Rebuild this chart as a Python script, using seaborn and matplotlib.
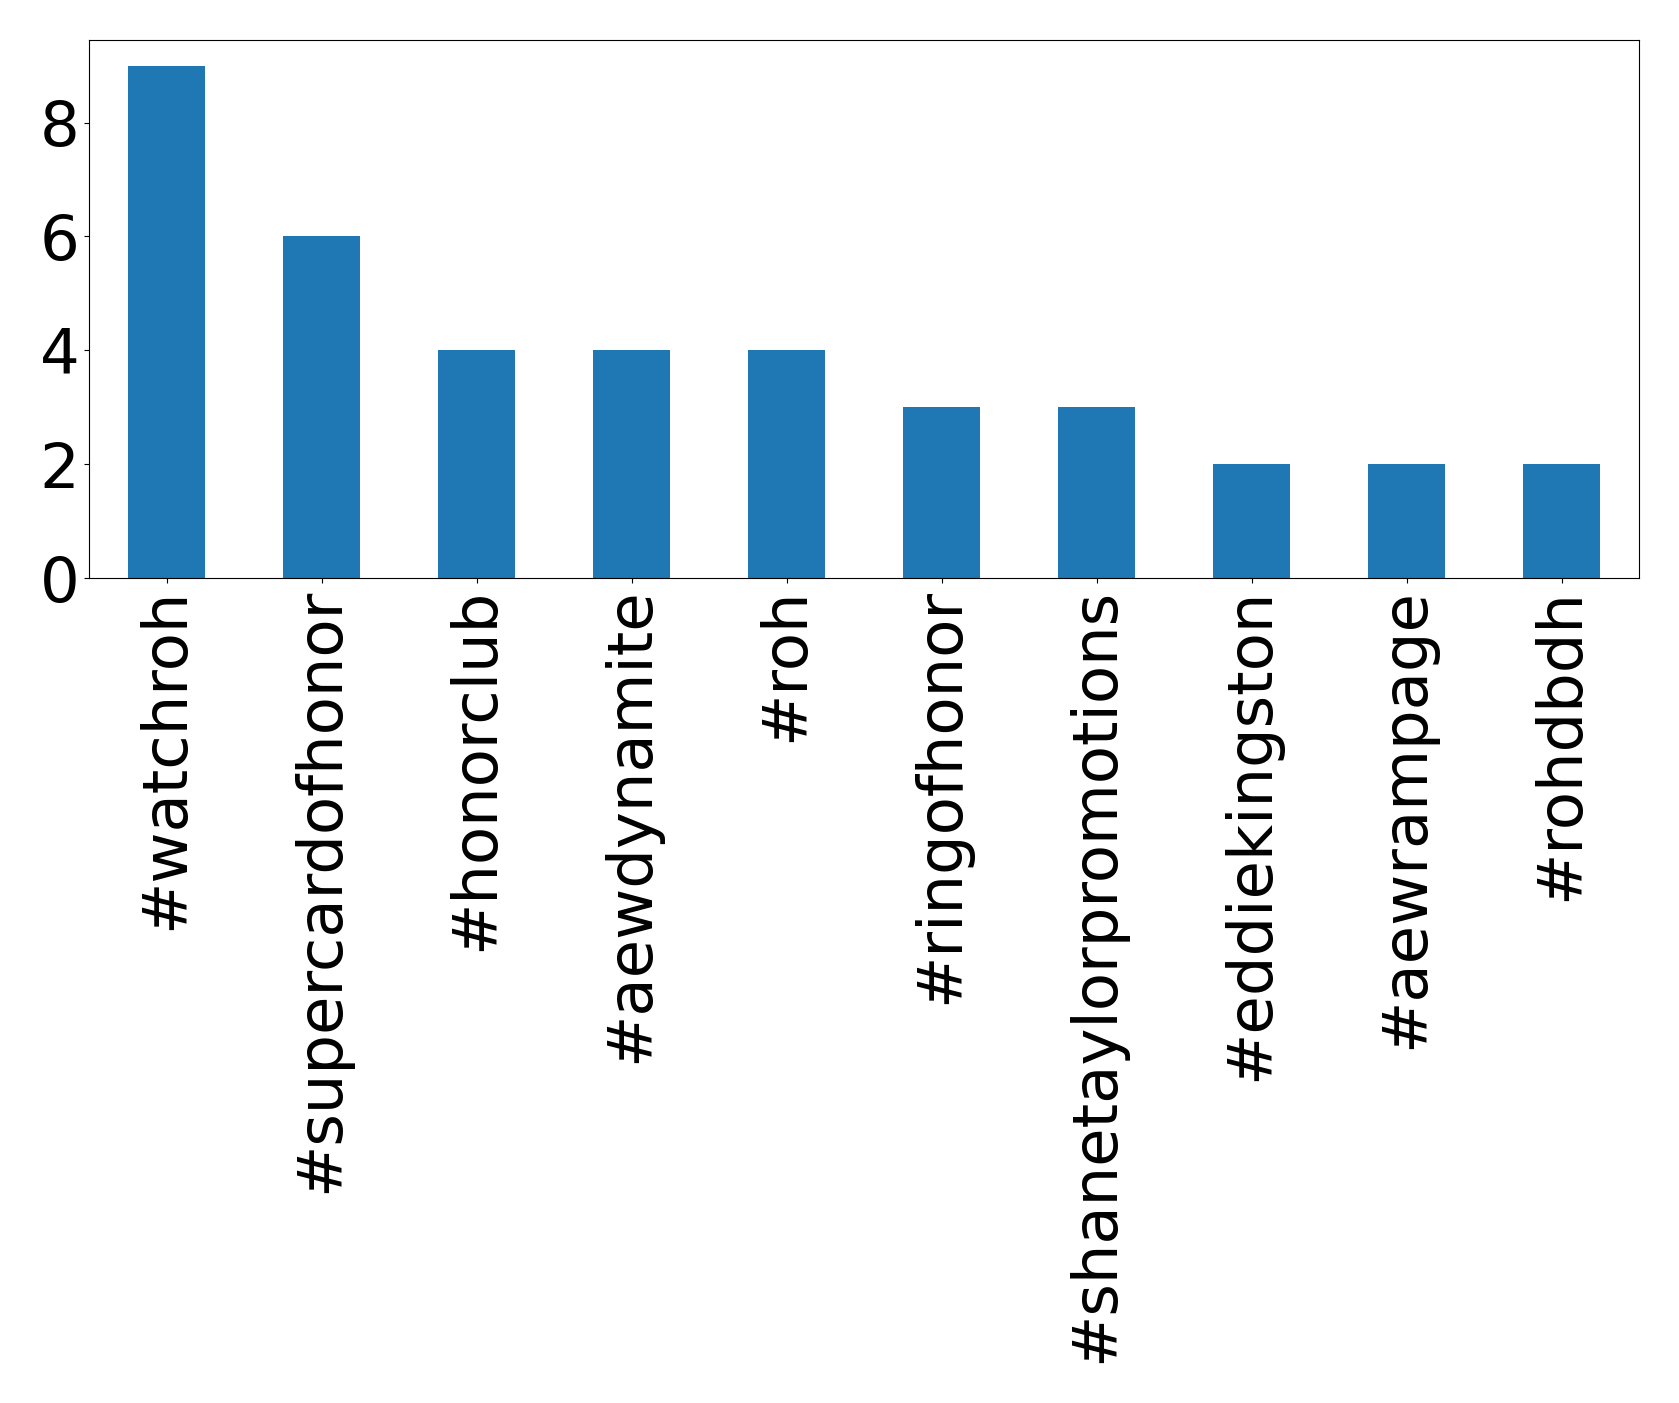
import matplotlib
matplotlib.use("Agg")
import matplotlib.pyplot as plt
import seaborn as sns
import pandas as pd

hashtags = ["#watchroh", "#supercardofhonor", "#honorclub", "#aewdynamite", "#roh",
            "#ringofhonor", "#shanetaylorpromotions", "#eddiekingston", "#aewrampage", "#rohdbdh"]
counts = [9, 6, 4, 4, 4, 3, 3, 2, 2, 2]

df = pd.DataFrame({"hashtag": hashtags, "count": counts})

fig = plt.figure(figsize=(16.79, 14.03), dpi=100)
ax = fig.add_axes([89/1679, 1 - 578/1403, (1639-89)/1679, (578-40)/1403])
sns.barplot(data=df, x="hashtag", y="count", ax=ax, color="#1f77b4",
            saturation=1, width=0.5, native_scale=False)
ax.set_xlim(-0.5, 9.5)
ax.set_ylim(0, 9.45)
ax.set_xlabel("")
ax.set_ylabel("")
ax.set_yticks([0, 2, 4, 6, 8])
ax.tick_params(axis="both", labelsize=45)
for lbl in ax.get_xticklabels():
    lbl.set_rotation(90)
fig.savefig("out.png", dpi=100)
